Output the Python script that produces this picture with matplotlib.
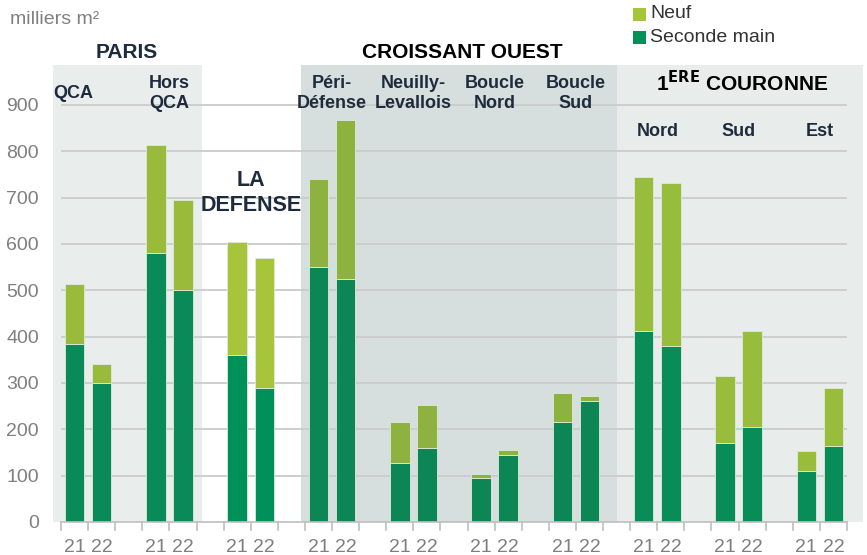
import matplotlib.pyplot as plt
from matplotlib.patches import Rectangle

plt.rcParams['font.family'] = ['Liberation Sans', 'DejaVu Sans']

years = ['21', '22']
zones = ['QCA', 'Hors QCA', 'La Défense', 'Péri-Défense', 'Neuilly-Levallois',
         'Boucle Nord', 'Boucle Sud', 'Nord', 'Sud', 'Est']
seconde = [383, 300, 580, 500, 360, 290, 550, 525, 128, 160,
           95, 145, 215, 262, 412, 380, 170, 205, 110, 165]
total = [513, 341, 813, 694, 605, 570, 740, 868, 215, 252,
         103, 155, 278, 271, 745, 732, 315, 413, 153, 290]
neuf = [t - s for t, s in zip(total, seconde)]

# colours per group (Paris, La Défense, Croissant Ouest, 1ère couronne)
group_of_zone = [0, 0, 1, 2, 2, 2, 2, 3, 3, 3]
col_sec = ['#0A8A58', '#00915A', '#0D8655', '#088C58']
col_neuf = ['#9ABA3C', '#A7C53A', '#8DB23F', '#98BC3C']

fig = plt.figure(figsize=(8.67, 5.55), dpi=100)
W, H = 867, 555
ax = fig.add_axes([61 / W, (H - 522) / H, 786 / W, 457 / H])
ax.set_xlim(-0.5, 28.5)
ax.set_ylim(0, 986)

# background blocks
shade = [(-0.8, 4.7, '#E9EDEC'), (8.36, 20.0, '#D6DFDD'), (20.0, 29.1, '#E8EDEB')]
for x0, x1, c in shade:
    ax.add_patch(Rectangle((x0, 0), x1 - x0, 986, facecolor=c, edgecolor='none',
                           zorder=0, clip_on=False))

for v in range(100, 1000, 100):
    ax.plot([-0.5, 28.5], [v, v], color='#C9CCCB', lw=1.3, zorder=1)

xs = [i * 3 + j for i in range(len(zones)) for j in range(2)]
for k, x in enumerate(xs):
    g = group_of_zone[k // 2]
    ax.bar(x, seconde[k], width=0.72, color=col_sec[g], edgecolor='#DDEBD8',
           linewidth=0.6, zorder=2)
    ax.bar(x, neuf[k], bottom=seconde[k], width=0.72, color=col_neuf[g],
           edgecolor='#DDEBD8', linewidth=0.6, zorder=2)

ax.set_xticks(xs)
ax.set_xticklabels(years * len(zones), fontsize=14, color='#7F7F7F')
ax.tick_params(axis='x', length=0, pad=12)
for b in range(30):
    ax.plot([b - 0.5, b - 0.5], [0, -18], color='#BFBFBF', lw=1.2,
            clip_on=False, zorder=3)

ax.set_yticks(range(0, 1000, 100))
ax.set_yticklabels([str(v) for v in range(0, 1000, 100)], fontsize=14, color='#7F7F7F')
ax.tick_params(axis='y', length=0, pad=16)
for s in ['top', 'right', 'left']:
    ax.spines[s].set_visible(False)
ax.spines['bottom'].set_color('#BFBFBF')
ax.spines['bottom'].set_linewidth(1.2)

navy = '#1E2B3C'
lab = dict(ha='center', va='center', fontsize=13, fontweight='bold', color=navy,
           linespacing=1.25)
ax.text(-0.05, 925, 'QCA', **lab)
ax.text(3.5, 925, 'Hors\nQCA', **lab)
ax.text(9.5, 925, 'Péri-\nDéfense', **lab)
ax.text(12.5, 925, 'Neuilly-\nLevallois', **lab)
ax.text(15.5, 925, 'Boucle\nNord', **lab)
ax.text(18.5, 925, 'Boucle\nSud', **lab)
ax.text(21.5, 843, 'Nord', **lab)
ax.text(24.5, 843, 'Sud', **lab)
ax.text(27.5, 843, 'Est', **lab)
ax.text(6.5, 710, 'LA\nDEFENSE', ha='center', va='center', fontsize=15.5,
        fontweight='bold', color=navy, linespacing=1.2)

fig.text(10 / W, 1 - 20 / H, 'milliers m²', fontsize=14, color='#808080', va='center')
fig.text(127 / W, 1 - 52 / H, 'PARIS', fontsize=15, fontweight='bold', color=navy,
         ha='center', va='center')
fig.text(462 / W, 1 - 52 / H, 'CROISSANT OUEST', fontsize=15, fontweight='bold',
         color='black', ha='center', va='center')
fig.text(742 / W, 1 - 83 / H, r'1$^{\mathbf{ERE}}$ COURONNE', fontsize=15,
         fontweight='bold', color='black', ha='center', va='center')

# legend
fig.patches.append(Rectangle((633 / W, 1 - 21 / H), 13 / W, 13 / H,
                             facecolor='#A5C63B', transform=fig.transFigure))
fig.patches.append(Rectangle((633 / W, 1 - 44 / H), 13 / W, 13 / H,
                             facecolor='#00905A', transform=fig.transFigure))
fig.text(650 / W, 1 - 14 / H, 'Neuf', fontsize=14, color='#333333', va='center')
fig.text(650 / W, 1 - 37 / H, 'Seconde main', fontsize=14, color='#333333', va='center')

fig.savefig('out.png', dpi=100)
